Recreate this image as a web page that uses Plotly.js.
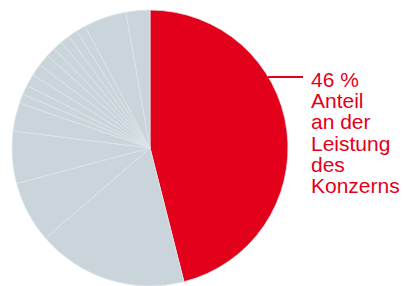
<!DOCTYPE html>
<html>
<head>
<meta charset="utf-8">
<script src="https://cdn.plot.ly/plotly-3.0.1.min.js"></script>
<style>html,body{margin:0;padding:0;background:#fff;}#chart{width:403px;height:286px;}</style>
</head>
<body>
<div id="chart"></div>
<script>
// Share of slices (percent), clockwise from 12 o'clock; first slice = Konzern share
const sliceValues = [46, 17.6, 7.2, 6.1, 3.3, 1.1, 1.1, 1.4, 1.4, 1.4, 1.1, 1.1, 1.1, 1.1, 1.1, 5.0, 2.8];
const labelLines = ['46 %', 'Anteil', 'an der', 'Leistung', 'des', 'Konzerns'];

const RED = '#E2001A';
const GRAY = '#C9D4DB';
const labels = sliceValues.map((v, i) => 'S' + i);
const colors = sliceValues.map((v, i) => i === 0 ? RED : GRAY);

const W = 403, H = 286;
const trace = {
  type: 'pie',
  labels: labels,
  values: sliceValues,
  sort: false,
  direction: 'clockwise',
  rotation: 0,
  textinfo: 'none',
  hoverinfo: 'none',
  showlegend: false,
  marker: {colors: colors, line: {color: '#DDE5EA', width: 0.8}},
  domain: {x: [12 / W, 288 / W], y: [0, 276 / H]}
};

const baseline0 = 86.7, lineStep = 21.3;
const annotations = labelLines.map((t, i) => ({
  text: t,
  xref: 'paper', yref: 'paper',
  x: 309 / W, y: 1 - (baseline0 + i * lineStep - 7.5) / H,
  xanchor: 'left', yanchor: 'middle',
  showarrow: false,
  font: {family: 'Liberation Sans, Arial, sans-serif', size: 21, color: RED}
}));

const layout = {
  width: W, height: H,
  margin: {l: 0, r: 0, t: 0, b: 0},
  paper_bgcolor: '#ffffff',
  plot_bgcolor: '#ffffff',
  annotations: annotations,
  shapes: [{
    type: 'line', xref: 'paper', yref: 'paper',
    x0: 268 / W, x1: 303 / W, y0: 1 - 77 / H, y1: 1 - 77 / H,
    line: {color: RED, width: 1.8}
  }]
};

Plotly.newPlot('chart', [trace], layout, {staticPlot: true, displayModeBar: false});
</script>
</body>
</html>
